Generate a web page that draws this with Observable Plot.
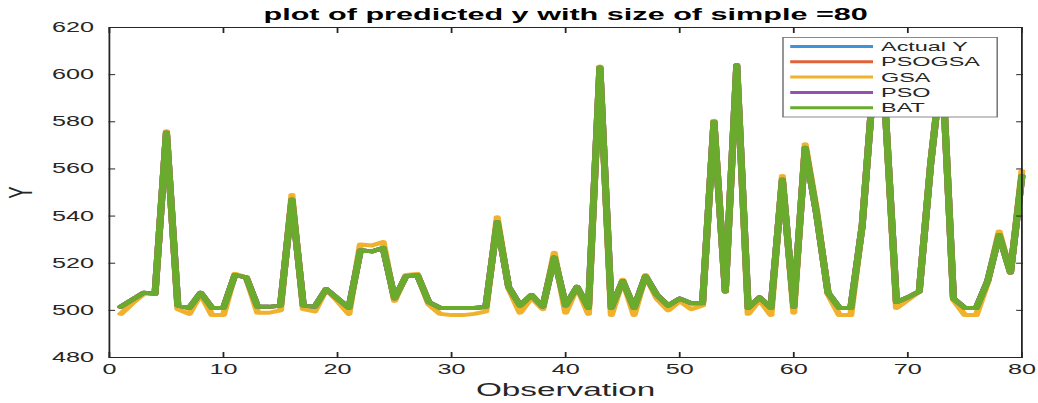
<!DOCTYPE html>
<html><head><meta charset="utf-8">
<script src="https://cdn.jsdelivr.net/npm/d3@7"></script>
<script src="https://cdn.jsdelivr.net/npm/@observablehq/plot@0.6"></script>
<style>
html,body{margin:0;padding:0;background:#fff;}
#chart{width:1038px;height:403px;overflow:hidden;}
</style></head><body><div id="chart"></div>
<script>
const titleText = "plot of predicted y with size of simple =80";
const xLabel = "Observation";
const yLabel = "Y";
const xTicks = [0, 10, 20, 30, 40, 50, 60, 70, 80];
const yTicks = [480, 500, 520, 540, 560, 580, 600, 620];
const seriesNames = ["Actual Y", "PSOGSA", "GSA", "PSO", "BAT"];
const seriesColors = ["#3d94d6", "#e0623a", "#f0b22c", "#9650ae", "#6aab2d"];

const observation = d3.range(1, 81);
const actualY = [501.5,504.5,507.5,507,575.5,502,501,507.5,501,501,
  515,514,501.5,501.5,502,547,502,501.5,509,505,
  501,525.5,525,526.5,505,514.5,515,503.5,501,501,
  501,501,501.5,537.5,510,502,506.5,501.5,522.5,502,
  510,501,603,501,512.5,501,514.5,506.5,502,505,
  503,503,580,508,604,501,505.5,501,555.5,501.5,
  569,541,507.5,501,501,536,598,587,503.5,505.5,
  508,562,605,505,501,501,512.5,532,516,557];
const psogsa = [501.5,504.5,507.5,507,575.5,502,501,507.5,501,501,
  515,514,501.5,501.5,502,547,502,501.5,509,505,
  501,525.5,525,526.5,505,514.5,515,503.5,501,501,
  501,501,501.5,537.5,510,502,506.5,501.5,522.5,502,
  510,501,603,501,512.5,501,514.5,506.5,502,505,
  503,503,580,508,604,501,505.5,501,555.5,501.5,
  569,541,507.5,501,501,536,598,587,503.5,505.5,
  508,562,605,505,501,501,512.5,532,516,557];
const gsa = [498.5,503,507,507,576,500.5,498.5,507,498,498,
  515.5,514,499,499,500,549,500.5,499.5,509,504,
  498.5,528,527.5,529,504,515,515.5,502.5,498.5,498,
  498,498.5,499.5,539.5,509.5,499,505.5,500.5,524.5,499,
  510,498.5,603.5,498,513,498,515,505,500,504,
  500.5,502,580.5,508,604,498.5,504.5,498,557,499,
  570.5,542.5,507,498,498,536.5,598,587,501,504.5,
  508,562.5,605,504.5,498,498,512,533.5,516,559];
const pso = [501.5,504.5,507.5,507,575.5,502,501,507.5,501,501,
  515,514,501.5,501.5,502,547,502,501.5,509,505,
  501,525.5,525,526.5,505,514.5,515,503.5,501,501,
  501,501,501.5,537.5,510,502,506.5,501.5,522.5,502,
  510,501,603,501,512.5,501,514.5,506.5,502,505,
  503,503,580,508,604,501,505.5,501,555.5,501.5,
  569,541,507.5,501,501,536,598,587,503.5,505.5,
  508,562,605,505,501,501,512.5,532,516,557];
const bat = [501.5,504.5,507.5,507,575.5,502,501,507.5,501,501,
  515,514,501.5,501.5,502,547,502,501.5,509,505,
  501,525.5,525,526.5,505,514.5,515,503.5,501,501,
  501,501,501.5,537.5,510,502,506.5,501.5,522.5,502,
  510,501,603,501,512.5,501,514.5,506.5,502,505,
  503,503,580,508,604,501,505.5,501,555.5,501.5,
  569,541,507.5,501,501,536,598,587,503.5,505.5,
  508,562,605,505,501,501,512.5,532,516,557];

const seriesValues = [actualY, psogsa, gsa, pso, bat];
const rows = seriesNames.flatMap((name, k) =>
  seriesValues[k].map((v, i) => ({obs: observation[i], y: v, series: name})));

const S = 1.8;            // horizontal stretch of the original figure
const W = 1038 / S;
const FONT = "'Liberation Sans', Arial, Helvetica, sans-serif";
const ink = "#262626";

const chart = Plot.plot({
  width: W, height: 403,
  marginLeft: 108.5 / S, marginRight: (1038 - 1021) / S, marginTop: 27, marginBottom: 46,
  style: {fontFamily: FONT, fontSize: "14px", color: ink, background: "white", overflow: "visible"},
  x: {domain: [0, 80]},
  y: {domain: [480, 620]},
  color: {domain: seriesNames, range: seriesColors},
  marks: [
    Plot.line(rows, {x: "obs", y: "y", z: "series", stroke: "series", strokeWidth: 3.9, strokeLinejoin: "round", strokeLinecap: "round"}),
    Plot.frame({stroke: ink, strokeWidth: 1}),
    Plot.axisX({ticks: xTicks, tickSize: 0, tickPadding: 7, label: null, fontSize: 14}),
    Plot.axisX({ticks: xTicks, tickSize: -5, fill: "none", label: null}),
    Plot.axisX({anchor: "top", ticks: xTicks, tickSize: -5, fill: "none", label: null}),
    Plot.axisY({ticks: yTicks, tickSize: 0, tickPadding: 8.5, label: null, fontSize: 14}),
    Plot.axisY({ticks: yTicks, tickSize: -3.7, fill: "none", label: null}),
    Plot.axisY({anchor: "right", ticks: yTicks, tickSize: -3.7, fill: "none", label: null}),
    Plot.text([titleText], {frameAnchor: "top", dy: -13, lineAnchor: "middle", fontWeight: "bold", fontSize: 17, fill: "#000"}),
    Plot.text([xLabel], {frameAnchor: "bottom", dy: 33, lineAnchor: "middle", fontSize: 18.5, fill: ink}),
    Plot.text([yLabel], {frameAnchor: "left", dx: -49, rotate: -90, textAnchor: "middle", lineAnchor: "middle", fontSize: 18.5, fill: ink})
  ]
});

// legend (MATLAB style, opaque box at upper right)
const svg = d3.select(chart);
const lg = svg.append("g").attr("font-family", FONT).attr("font-size", 13).attr("text-anchor", "start");
lg.append("rect").attr("x", 435).attr("y", 37.5).attr("width", 119).attr("height", 79.5)
  .attr("fill", "white").attr("stroke", "#6e6e6e").attr("stroke-width", 0.8);
seriesNames.forEach((name, k) => {
  const yy = 46.5 + k * 15.3;
  lg.append("line").attr("x1", 439).attr("x2", 485).attr("y1", yy).attr("y2", yy)
    .attr("stroke", seriesColors[k]).attr("stroke-width", 3);
  lg.append("text").attr("x", 489.5).attr("y", yy).attr("dy", "0.36em")
    .attr("text-anchor", "start").attr("fill", ink).text(name);
});

chart.setAttribute("width", 1038);
chart.setAttribute("height", 403);
chart.setAttribute("preserveAspectRatio", "none");
chart.style.width = "1038px";
chart.style.height = "403px";
chart.style.maxWidth = "none";
document.getElementById("chart").appendChild(chart);
</script></body></html>
